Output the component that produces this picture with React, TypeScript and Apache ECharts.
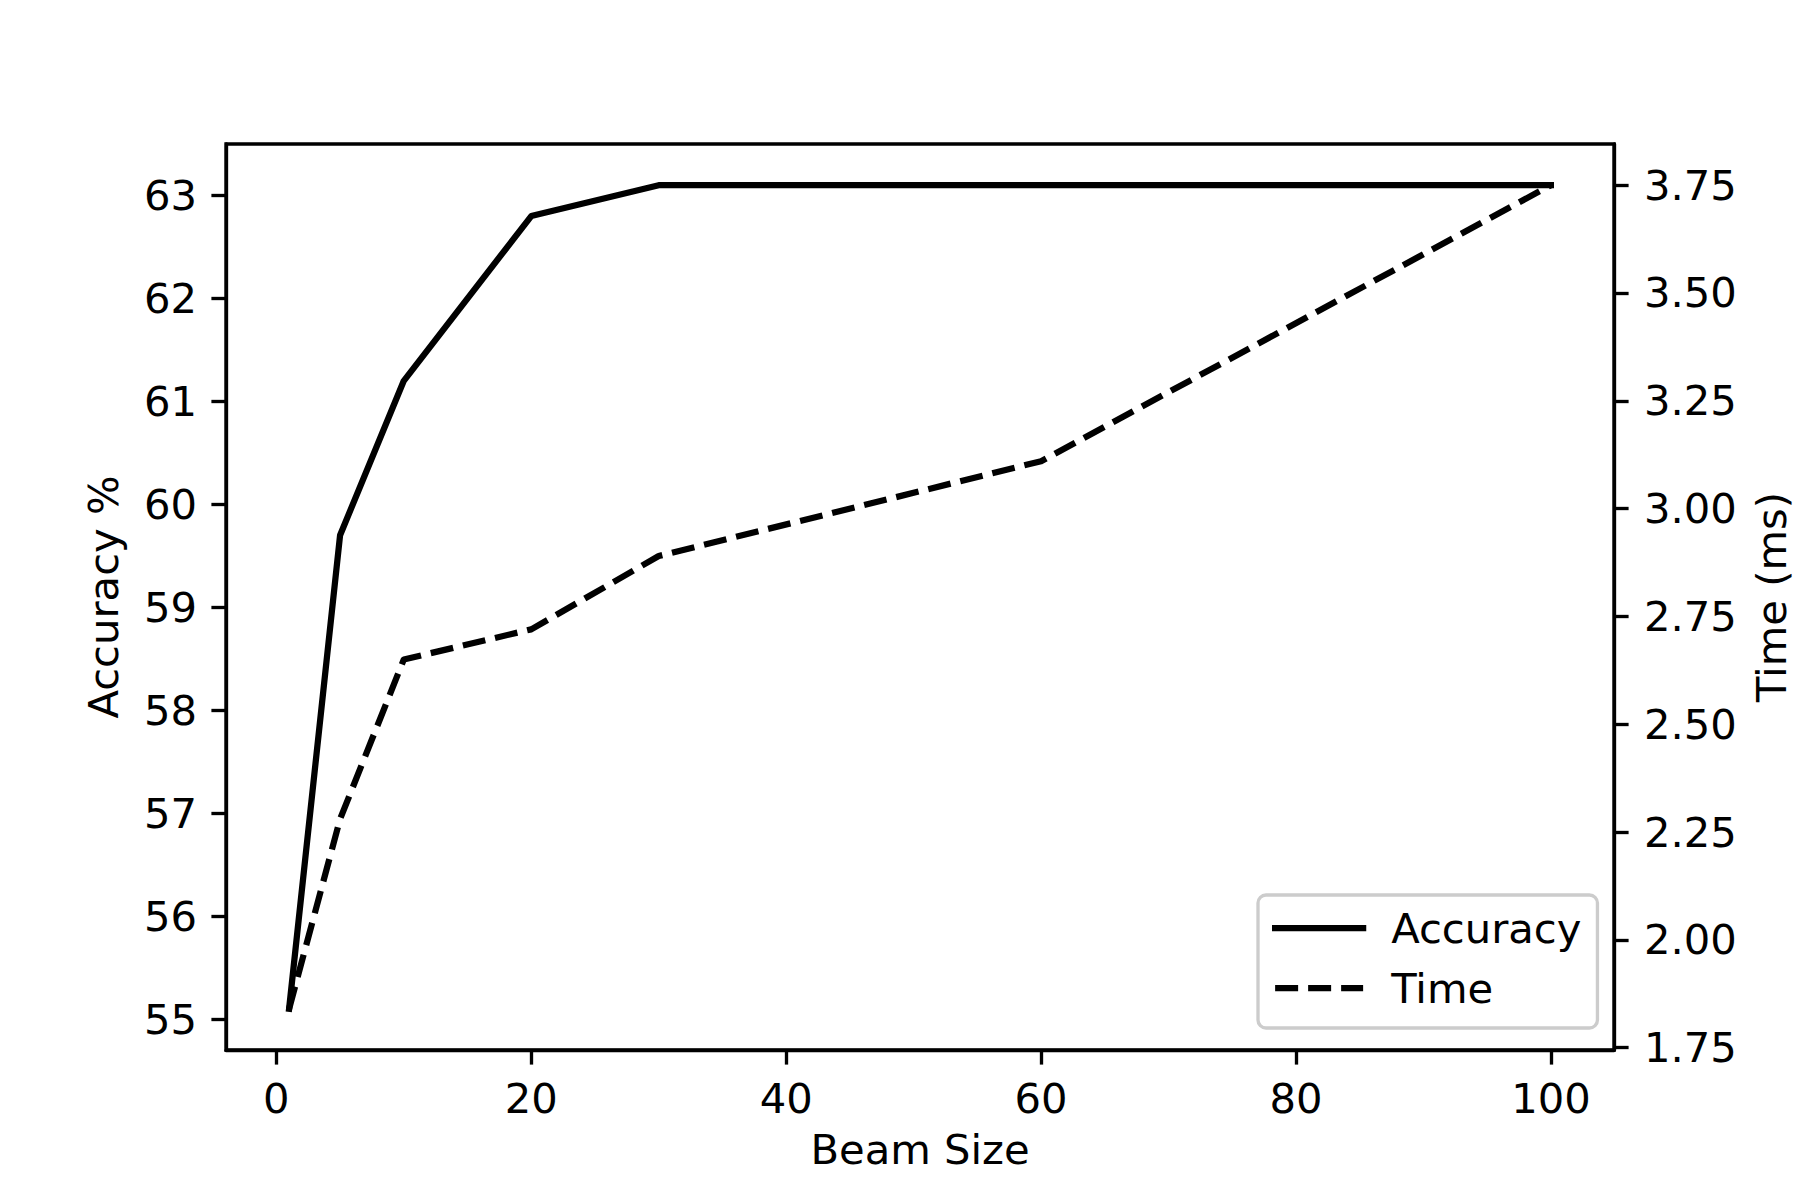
import React, { useEffect, useRef } from "react";
import * as echarts from "echarts";

const beamSizes = [1, 5, 10, 20, 30, 60, 100];
const accuracy = [55.1, 59.7, 61.2, 62.8, 63.1, 63.1, 63.1];
const timeMs = [1.84, 2.28, 2.65, 2.72, 2.89, 3.11, 3.75];
const xTicks = [0, 20, 40, 60, 80, 100];
const accTicks = [55, 56, 57, 58, 59, 60, 61, 62, 63];
const timeTicks = [1.75, 2.0, 2.25, 2.5, 2.75, 3.0, 3.25, 3.5, 3.75];

const FONT = "DejaVu Sans";
const FS = 41.7;
const AXW = 3.33;
const LW = 6.25;

function padded(vals: number[]) {
  const lo = Math.min(...vals);
  const hi = Math.max(...vals);
  const m = (hi - lo) * 0.05;
  return [lo - m, hi + m];
}

export default function App() {
  const ref = useRef<HTMLDivElement>(null);
  useEffect(() => {
    document.body.style.margin = "0";
    const chart = echarts.init(ref.current!, null, { renderer: "svg" });
    const [xMin, xMax] = padded(beamSizes);
    const [aMin, aMax] = padded(accuracy);
    const [tMin, tMax] = padded(timeMs);
    const axisLine = { show: true, onZero: false, lineStyle: { color: "#000", width: AXW } };
    const axisTick = (vals: number[]) => ({
      show: true,
      length: 14.6,
      lineStyle: { color: "#000", width: AXW },
      customValues: vals,
    });
    const label = (vals: number[], margin: number, fmt?: (v: number) => string) => ({
      show: true,
      color: "#000",
      fontFamily: FONT,
      fontSize: FS,
      margin,
      customValues: vals,
      formatter: fmt,
    });
    chart.setOption({
      animation: false,
      backgroundColor: "#fff",
      grid: {
        left: 226,
        top: 144,
        width: 1395,
        height: 906,
        show: true,
        borderColor: "#000",
        borderWidth: AXW,
        backgroundColor: "transparent",
        containLabel: false,
      },
      xAxis: {
        type: "value",
        min: xMin,
        max: xMax,
        axisLine,
        axisTick: axisTick(xTicks),
        axisLabel: label(xTicks, 27, (v: number) => String(v)),
        splitLine: { show: false },
        name: "Beam Size",
        nameLocation: "middle",
        nameGap: 78,
        nameTextStyle: { color: "#000", fontFamily: FONT, fontSize: FS },
      },
      yAxis: [
        {
          type: "value",
          position: "left",
          min: aMin,
          max: aMax,
          axisLine,
          axisTick: axisTick(accTicks),
          axisLabel: label(accTicks, 29, (v: number) => String(v)),
          splitLine: { show: false },
          name: "Accuracy %",
          nameLocation: "middle",
          nameGap: 102,
          nameTextStyle: { color: "#000", fontFamily: FONT, fontSize: FS },
        },
        {
          type: "value",
          position: "right",
          min: tMin,
          max: tMax,
          axisLine,
          axisTick: axisTick(timeTicks),
          axisLabel: label(timeTicks, 30, (v: number) => v.toFixed(2)),
          splitLine: { show: false },
          name: "Time (ms)",
          nameLocation: "middle",
          nameRotate: 90,
          nameGap: 136,
          nameTextStyle: { color: "#000", fontFamily: FONT, fontSize: FS },
        },
      ],
      legend: {
        orient: "vertical",
        left: 1258,
        top: 895,
        padding: [8, 16, 15, 14],
        itemWidth: 88,
        itemHeight: 20,
        itemGap: 10,
        backgroundColor: "rgba(255,255,255,0.8)",
        borderColor: "#cccccc",
        borderWidth: AXW,
        borderRadius: 8,
        itemStyle: { opacity: 0 },
        lineStyle: { width: LW },
        textStyle: {
          fontSize: FS,
          fontFamily: FONT,
          color: "#000",
          lineHeight: 50,
          padding: [0, 0, 0, 23],
        },
        data: ["Accuracy", "Time"],
      },
      series: [
        {
          name: "Accuracy",
          type: "line",
          yAxisIndex: 0,
          symbol: "none",
          data: beamSizes.map((x, i) => [x, accuracy[i]]),
          lineStyle: { color: "#000", width: LW, type: "solid", join: "round", cap: "square" },
          itemStyle: { color: "#000" },
          z: 2,
        },
        {
          name: "Time",
          type: "line",
          yAxisIndex: 1,
          symbol: "none",
          data: beamSizes.map((x, i) => [x, timeMs[i]]),
          lineStyle: { color: "#000", width: LW, type: [23, 10], join: "round", cap: "butt" },
          itemStyle: { color: "#000" },
          z: 3,
        },
      ],
    });
    return () => chart.dispose();
  }, []);
  return <div ref={ref} style={{ width: 1800, height: 1200 }} />;
}
